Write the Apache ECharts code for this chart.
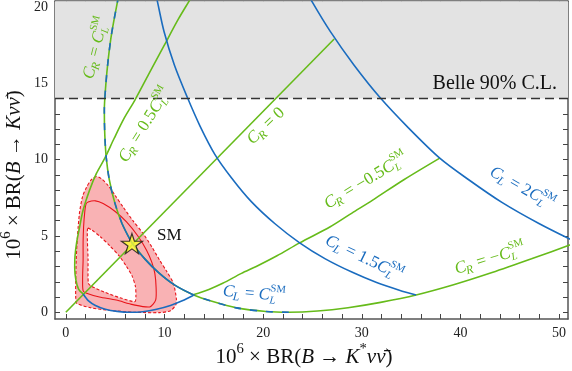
<!DOCTYPE html>
<html>
<head>
<meta charset="utf-8">
<script src="https://cdn.jsdelivr.net/npm/echarts@6.0.0/dist/echarts.min.js"></script>
<style>
html, body { margin: 0; padding: 0; background: #fff; }
#chart { width: 572px; height: 371px; }
</style>
</head>
<body>
<div id="chart"></div>
<script>
// 刻度
const xTickLabels = [0, 10, 20, 30, 40, 50];
const xTicks = [0, 2, 4, 6, 8, 10, 12, 14, 16, 18, 20, 22, 24, 26, 28, 30, 32, 34, 36, 38, 40, 42, 44, 46, 48, 50];
const yTickLabels = [0, 5, 10, 15, 20];
const yTicks = [0, 1, 2, 3, 4, 5, 6, 7, 8, 9, 10, 11, 12, 13, 14, 15, 16, 17, 18, 19, 20];
const belleLimit = 14;
const smPoint = [[6.7, 4.5]];

// 绿线 C_R 固定
const crZero = [[0, 0], [27.2, 17.9]];
const crHalf = [[1.75, 1.2], [1.3, 1.5], [1.02, 2.1], [0.9, 2.9], [0.93, 3.7], [1.1, 4.6], [1.4, 5.6], [1.75, 6.7], [2.4, 8.0], [3.1, 9.1], [3.95, 10.1], [4.9, 11.4], [5.9, 12.7], [7.0, 13.9], [8.4, 15.6], [9.9, 17.4], [11.4, 19.2], [12.6, 20.5], [13.5, 21.5]];
const crMinusHalf = [[12.9, 1.15], [14.5, 1.5], [15.9, 1.9], [17.8, 2.55], [19.3, 3.0], [21.4, 3.7], [23.7, 4.55], [26.8, 5.6], [29.0, 6.5], [31.1, 7.35], [34.3, 8.7], [37.9, 10.1]];
const crOne = [[6.7, 4.55], [5.7, 5.8], [4.95, 7.2], [4.4, 8.7], [4.1, 10.1], [3.95, 11.6], [3.9, 13.2], [4.05, 14.9], [4.3, 16.6], [4.65, 18.3], [5.25, 20.4], [5.6, 21.5]];
const crMinusOne = [[6.7, 4.55], [8.0, 3.5], [9.4, 2.6], [11.0, 1.8], [12.9, 1.15], [14.9, 0.7], [17.3, 0.29], [20.3, 0.05], [22.6, 0.0], [25.5, 0.08], [28.6, 0.3], [31.9, 0.65], [35.5, 1.13], [39.3, 1.8], [43.2, 2.6], [47.2, 3.5], [51.7, 4.55]];

// 蓝线 C_L 固定
const clHalf = [[1.75, 1.2], [2.3, 0.75], [3.0, 0.45], [4.0, 0.2], [5.2, 0.06], [6.5, 0.0], [7.8, 0.04], [9.2, 0.2], [10.6, 0.45], [11.8, 0.75], [12.9, 1.1]];
const clOneLow = [[12.9, 1.15], [11.0, 1.8], [9.4, 2.6], [8.0, 3.5], [6.7, 4.55], [5.7, 5.8]];
const clOneRest = [[22.6, 0.0], [20.3, 0.05], [17.3, 0.29], [14.9, 0.7], [12.9, 1.15]];
const clOneTop = [[5.7, 5.8], [4.95, 7.2], [4.4, 8.7], [4.1, 10.1], [3.95, 11.6], [3.9, 13.2], [4.05, 14.9], [4.3, 16.6], [4.65, 18.3], [5.25, 20.4], [5.6, 21.5]];
const clOneHalf = [[35.5, 1.13], [33.8, 1.45], [31.5, 1.95], [29.1, 2.6], [26.3, 3.5], [23.7, 4.55], [21.2, 5.8], [18.8, 7.25], [16.8, 8.8], [15.1, 10.35], [13.6, 12.2], [12.3, 14.1], [11.0, 16.2], [9.95, 18.4], [9.3, 20.3], [8.9, 21.5]];
const clTwo = [[51.7, 4.6], [48.0, 5.8], [44.2, 7.2], [40.8, 8.7], [37.9, 10.1], [34.7, 12.1], [31.8, 14.1], [29.2, 16.2], [26.8, 18.4], [25.0, 20.3], [23.9, 21.6]];

// 红色区域
const bandOuter = [[3.1, 8.9], [2.6, 8.7], [2.1, 8.2], [1.7, 7.6], [1.4, 6.6], [1.25, 5.6], [1.12, 4.4], [1.05, 3.4], [1.0, 2.0], [1.0, 1.0], [1.08, 0.6], [2.5, 0.3], [4.5, 0.12], [7.0, 0.0], [9.5, -0.02], [10.6, 0.1], [11.15, 0.5], [11.2, 0.9], [10.9, 1.9], [10.2, 2.7], [9.5, 3.42], [8.7, 4.3], [7.83, 5.16], [6.8, 6.0], [5.8, 6.9], [5.0, 7.65], [4.3, 8.3], [3.6, 8.75]];
const bandInner = [[2.2, 5.5], [2.25, 3.5], [2.28, 1.9], [2.55, 1.72], [4.0, 1.3], [5.5, 0.95], [7.0, 0.7], [7.1, 1.0], [7.05, 1.7], [6.7, 2.4], [6.15, 3.0], [5.4, 3.7], [4.46, 4.35], [3.5, 4.95], [2.6, 5.4]];
const bandCentral = [[2.26, 7.23], [3.0, 7.3], [3.78, 7.12], [5.0, 6.6], [6.15, 5.92], [7.3, 5.0], [8.18, 4.07], [8.7, 3.3], [9.02, 2.55], [9.15, 1.6], [9.1, 0.8], [8.5, 0.35], [6.8, 0.5], [5.1, 0.8], [3.4, 1.0], [2.1, 1.25], [1.75, 1.4], [1.7, 2.3], [1.75, 3.42], [1.75, 4.6], [1.8, 5.6], [1.92, 6.6], [2.05, 7.1]];

const GREEN = '#66bb1a';
const BLUE = '#1a6cbf';
const RED = '#e8141a';
const FONT = '"Liberation Serif", "DejaVu Serif", serif';

const measCtx = document.createElement('canvas').getContext('2d');
function fnt(size, it) {
	return (it ? 'italic ' : '') + size + 'px ' + FONT;
}
function tw(t, size, it) {
	measCtx.font = fnt(size, it);
	return measCtx.measureText(t).width;
}

// 公式文字: 逐段排版 (子元素自己带 z, 否则会被灰色区域盖住)
function mathLabel(pieces, cx, cy, rotDeg, color, size, anchor) {
	const kids = [];
	let x = 0;
	const put = (t, s, it, dx, dy) =>
		kids.push({
			type: 'text',
			x: dx,
			y: dy,
			z: 50,
			style: { text: t, font: fnt(s, it), fill: color, textAlign: 'left', textVerticalAlign: 'middle', align: 'left', verticalAlign: 'middle' }
		});
	pieces.forEach(([t, k]) => {
		if (k === 'n' || k === 'i') {
			put(t, size, k === 'i', x, 0);
			x += tw(t, size, k === 'i');
		} else if (k === 'sub') {
			const s = size * 0.7;
			put(t, s, true, x - 1, size * 0.28);
			x += tw(t, s, true);
		} else if (k === 'sup') {
			const s = size * 0.7;
			put(t, s, false, x, -size * 0.38);
			x += tw(t, s, false);
		} else if (k === 'ss') {
			const s = size * 0.62;
			put(t[0], s, false, x, -size * 0.4);
			put(t[1], s, true, x, size * 0.3);
			x += Math.max(tw(t[0], s, false), tw(t[1], s, true));
		}
	});
	const shift = anchor === 'right' ? -x : anchor === 'left' ? 0 : -x / 2;
	kids.forEach((c) => (c.x += shift));
	return { type: 'group', x: cx, y: cy, rotation: (rotDeg * Math.PI) / 180, children: kids, z: 50, silent: true };
}

const CLSM = [['C', 'i'], [['SM', 'L'], 'ss']];
const labels = [
	mathLabel([['C', 'i'], ['R', 'sub'], [' = ', 'n'], ...CLSM], 96, 48, 76, GREEN, 17),
	mathLabel([['C', 'i'], ['R', 'sub'], [' = 0.5', 'n'], ...CLSM], 145, 125, 58, GREEN, 17),
	mathLabel([['C', 'i'], ['R', 'sub'], [' = 0', 'n']], 266, 126, 44, GREEN, 17),
	mathLabel([['C', 'i'], ['R', 'sub'], [' = \u22120.5', 'n'], ...CLSM], 366, 181, 31, GREEN, 17),
	mathLabel([['C', 'i'], ['R', 'sub'], [' = \u2212', 'n'], ...CLSM], 490, 259, 17, GREEN, 17),
	mathLabel([['C', 'i'], ['L', 'sub'], [' = 2', 'n'], ...CLSM], 522, 188, -29, BLUE, 17),
	mathLabel([['C', 'i'], ['L', 'sub'], [' = 1.5', 'n'], ...CLSM], 364, 258, -26, BLUE, 17),
	mathLabel([['C', 'i'], ['L', 'sub'], [' = ', 'n'], ...CLSM], 254, 294, -5, BLUE, 17),
	mathLabel([['SM', 'n']], 157, 236, 0, '#111', 17, 'left'),
	mathLabel([['Belle 90% C.L.', 'n']], 557, 84, 0, '#111', 20, 'right'),
	mathLabel([['10', 'n'], ['6', 'sup'], [' \u00d7 BR(', 'n'], ['B', 'i'], [' \u2192 ', 'n'], ['K', 'i'], ['*', 'sup'], ['\u03bd\u03bd\u0304', 'i'], [')', 'n']], 304, 357, 0, '#111', 21),
	mathLabel([['10', 'n'], ['6', 'sup'], [' \u00d7 BR(', 'n'], ['B', 'i'], [' \u2192 ', 'n'], ['K', 'i'], ['\u03bd\u03bd\u0304', 'i'], [')', 'n']], 14, 175, 90, '#111', 21)
];

function curve(data, color, z, dash) {
	return {
		type: 'line',
		data: data,
		showSymbol: false,
		symbol: 'none',
		smooth: 0.3,
		silent: true,
		z: z,
		lineStyle: { color: color, width: 1.6, type: dash || 'solid' }
	};
}

function region(pts, fill, stroke, dash, z) {
	return {
		type: 'custom',
		coordinateSystem: 'cartesian2d',
		data: [[0, 0]],
		silent: true,
		z: z,
		renderItem: (params, api) => ({
			type: 'polygon',
			shape: { points: pts.map((p) => api.coord(p)), smooth: 0.25 },
			style: { fill: fill, stroke: stroke, lineWidth: 1.1, lineDash: dash }
		})
	};
}

const axisCommon = {
	type: 'value',
	axisLine: { show: true, onZero: false, lineStyle: { color: '#555', width: 1.5 } },
	splitLine: { show: false },
	axisTick: { show: true, inside: true, length: 5, lineStyle: { color: '#444', width: 1 } }
};

const chart = echarts.init(document.getElementById('chart'));
chart.setOption({
	animation: false,
	grid: { left: 55, right: 4, top: 1, bottom: 52 },
	xAxis: [
		Object.assign({}, axisCommon, {
			min: -1.1,
			max: 50.9,
			position: 'bottom',
			axisTick: Object.assign({}, axisCommon.axisTick, { customValues: xTicks }),
			axisLabel: { customValues: xTickLabels, fontFamily: FONT, fontSize: 14, color: '#222', margin: 7 }
		}),
		Object.assign({}, axisCommon, {
			min: -1.1,
			max: 50.9,
			position: 'top',
			axisTick: Object.assign({}, axisCommon.axisTick, { customValues: xTicks }),
			axisLabel: { show: false }
		})
	],
	yAxis: [
		Object.assign({}, axisCommon, {
			min: -0.44,
			max: 20.38,
			position: 'left',
			axisTick: Object.assign({}, axisCommon.axisTick, { customValues: yTicks }),
			axisLabel: { customValues: yTickLabels, fontFamily: FONT, fontSize: 14, color: '#222', margin: 7 }
		}),
		Object.assign({}, axisCommon, {
			min: -0.44,
			max: 20.38,
			position: 'right',
			axisTick: Object.assign({}, axisCommon.axisTick, { customValues: yTicks }),
			axisLabel: { show: false }
		})
	],
	series: [
		{
			type: 'line',
			data: [],
			z: 1,
			silent: true,
			markArea: { silent: true, itemStyle: { color: '#e3e3e3' }, data: [[{ yAxis: belleLimit }, { yAxis: 20.38 }]] },
			markLine: {
				silent: true,
				symbol: 'none',
				label: { show: false },
				lineStyle: { color: '#333', width: 1.3, type: [9, 5] },
				data: [{ yAxis: belleLimit }]
			}
		},
		region(bandOuter, '#f9b2b4', RED, [3, 2], 2),
		region(bandInner, '#ffffff', RED, [3, 2], 2),
		region(bandCentral, 'none', RED, null, 2),
		curve(crZero, GREEN, 3),
		curve(crHalf, GREEN, 3),
		curve(crMinusHalf, GREEN, 3),
		curve(crOne, GREEN, 3),
		curve(crMinusOne, GREEN, 3),
		curve(clHalf, BLUE, 4),
		curve(clOneLow, BLUE, 4),
		curve(clOneRest, BLUE, 4, [7, 9]),
		curve(clOneTop, BLUE, 4, [7, 9]),
		curve(clOneHalf, BLUE, 4),
		curve(clTwo, BLUE, 4),
		{
			type: 'scatter',
			data: smPoint,
			z: 10,
			silent: true,
			symbol: 'path://M0,-1 L0.2245,-0.309 L0.951,-0.309 L0.363,0.118 L0.588,0.809 L0,0.382 L-0.588,0.809 L-0.363,0.118 L-0.951,-0.309 L-0.2245,-0.309 Z',
			symbolSize: [21, 20],
			itemStyle: { color: '#ffff2e', borderColor: '#111', borderWidth: 1.2 }
		}
	],
	graphic: labels
});
</script>
</body>
</html>
